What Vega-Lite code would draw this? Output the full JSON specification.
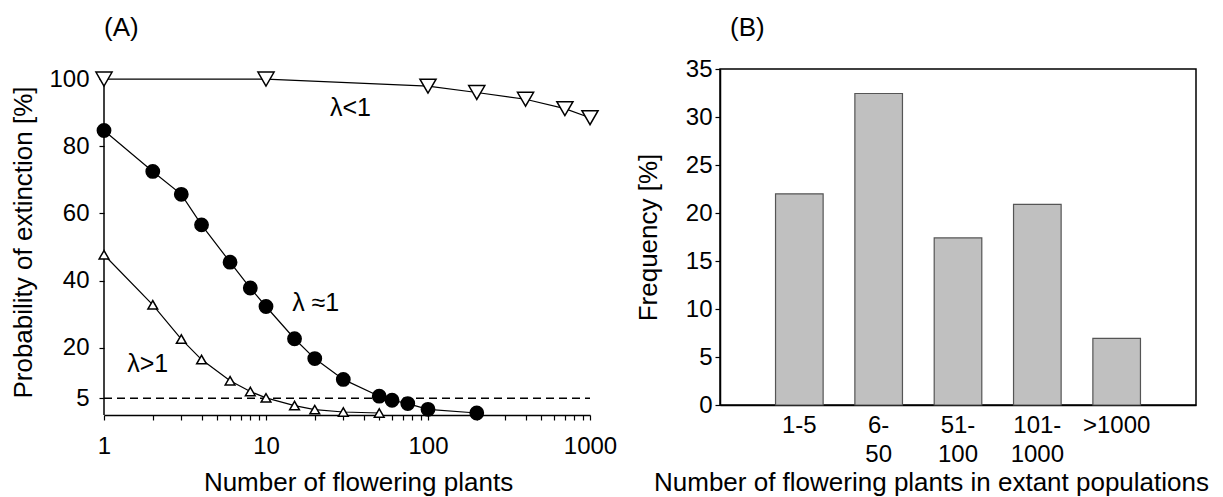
{
  "$schema": "https://vega.github.io/schema/vega-lite/v6.json",
  "padding": {"left": 10, "top": 14, "right": 5, "bottom": 2},
  "background": "white",
  "config": {
    "font": "Liberation Sans",
    "view": {"stroke": null},
    "axis": {"grid": false, "domainColor": "black", "tickColor": "black", "labelColor": "black", "titleColor": "black", "labelFont": "Liberation Sans", "titleFont": "Liberation Sans", "labelFontSize": 24, "titleFontSize": 26, "titleFontWeight": "normal", "domainWidth": 1.5, "tickWidth": 1.2},
    "title": {"fontSize": 26, "fontWeight": "normal", "anchor": "start", "frame": "group", "color": "black", "font": "Liberation Sans"}
  },
  "datasets": {
    "curves": [
      {"series": "lt", "plants": 1, "prob": 100},
      {"series": "lt", "plants": 10, "prob": 100},
      {"series": "lt", "plants": 100, "prob": 97.9},
      {"series": "lt", "plants": 200, "prob": 96.0},
      {"series": "lt", "plants": 400, "prob": 94.0},
      {"series": "lt", "plants": 700, "prob": 91.2},
      {"series": "lt", "plants": 1000, "prob": 88.5},
      {"series": "eq", "plants": 1, "prob": 84.7},
      {"series": "eq", "plants": 2, "prob": 72.5},
      {"series": "eq", "plants": 3, "prob": 65.7},
      {"series": "eq", "plants": 4, "prob": 56.6},
      {"series": "eq", "plants": 6, "prob": 45.5},
      {"series": "eq", "plants": 8, "prob": 37.8},
      {"series": "eq", "plants": 10, "prob": 32.3},
      {"series": "eq", "plants": 15, "prob": 22.7},
      {"series": "eq", "plants": 20, "prob": 16.8},
      {"series": "eq", "plants": 30, "prob": 10.6},
      {"series": "eq", "plants": 50, "prob": 5.6},
      {"series": "eq", "plants": 60, "prob": 4.4},
      {"series": "eq", "plants": 75, "prob": 3.4},
      {"series": "eq", "plants": 100, "prob": 1.7},
      {"series": "eq", "plants": 200, "prob": 0.6},
      {"series": "gt", "plants": 1, "prob": 47.7},
      {"series": "gt", "plants": 2, "prob": 32.8},
      {"series": "gt", "plants": 3, "prob": 22.6},
      {"series": "gt", "plants": 4, "prob": 16.5},
      {"series": "gt", "plants": 6, "prob": 10.2},
      {"series": "gt", "plants": 8, "prob": 7.0},
      {"series": "gt", "plants": 10, "prob": 5.1},
      {"series": "gt", "plants": 15, "prob": 2.8},
      {"series": "gt", "plants": 20, "prob": 1.6},
      {"series": "gt", "plants": 30, "prob": 0.9},
      {"series": "gt", "plants": 50, "prob": 0.6}
    ],
    "labels": [
      {"plants": 24.8, "prob": 91.4, "text": "λ<1"},
      {"plants": 14.5, "prob": 33.3, "text": "λ ≈1"},
      {"plants": 1.39, "prob": 15.2, "text": "λ>1"}
    ],
    "threshold": [
      {"from": 1, "to": 1000, "level": 5}
    ],
    "yaxisline": [
      {"plants": 1, "from": 0, "to": 100}
    ],
    "freq": [
      {"cls": "1-5", "freq": 22.0},
      {"cls": "6-|50", "freq": 32.45},
      {"cls": "51-|100", "freq": 17.4},
      {"cls": "101-|1000", "freq": 20.9},
      {"cls": ">1000", "freq": 6.95}
    ]
  },
  "spacing": 17,
  "hconcat": [
    {
      "width": 486,
      "height": 346,
      "title": {"text": "(A)", "offset": 26},
      "layer": [
        {
          "data": {"name": "curves"},
          "mark": {"type": "line", "color": "black", "strokeWidth": 1.2},
          "encoding": {
            "x": {
              "field": "plants", "type": "quantitative",
              "scale": {"type": "log", "domain": [1, 1000]},
              "axis": {
                "title": "Number of flowering plants",
                "values": [1,2,3,4,5,6,7,8,9,10,20,30,40,50,60,70,80,90,100,200,300,400,500,600,700,800,900,1000],
                "labelExpr": "indexof([1,10,100,1000], datum.value) >= 0 ? format(datum.value, 'd') : ''",
                "labelOverlap": false, "labelFlush": false,
                "tickSize": 5, "labelPadding": 14, "titlePadding": 11, "titleX": 254
              }
            },
            "y": {
              "field": "prob", "type": "quantitative",
              "scale": {"domain": [0, 103], "nice": false},
              "axis": {"title": "Probability of extinction [%]", "values": [5,20,40,60,80,100], "domain": false, "tickSize": 5, "labelPadding": 10, "titlePadding": 12}
            },
            "detail": {"field": "series", "type": "nominal"}
          }
        },
        {
          "data": {"name": "yaxisline"},
          "mark": {"type": "rule", "strokeWidth": 1.5, "color": "black"},
          "encoding": {
            "x": {"field": "plants", "type": "quantitative"},
            "y": {"field": "from", "type": "quantitative"},
            "y2": {"field": "to"}
          }
        },
        {
          "data": {"name": "threshold"},
          "mark": {"type": "rule", "strokeDash": [8, 5], "strokeWidth": 1.5, "color": "black"},
          "encoding": {
            "x": {"field": "from", "type": "quantitative"},
            "x2": {"field": "to"},
            "y": {"field": "level", "type": "quantitative"}
          }
        },
        {
          "data": {"name": "curves"},
          "mark": {"type": "point", "filled": true, "stroke": "black", "strokeWidth": 1.5, "opacity": 1},
          "encoding": {
            "x": {"field": "plants", "type": "quantitative"},
            "y": {"field": "prob", "type": "quantitative"},
            "shape": {"field": "series", "type": "nominal", "scale": {"domain": ["lt", "eq", "gt"], "range": ["triangle-down", "circle", "triangle-up"]}, "legend": null},
            "fill": {"field": "series", "type": "nominal", "scale": {"domain": ["lt", "eq", "gt"], "range": ["white", "black", "white"]}, "legend": null},
            "size": {"field": "series", "type": "nominal", "scale": {"domain": ["lt", "eq", "gt"], "range": [260, 95, 260]}, "legend": null}
          }
        },
        {
          "data": {"name": "labels"},
          "mark": {"type": "text", "align": "left", "baseline": "middle", "fontSize": 25, "font": "Liberation Sans", "color": "black"},
          "encoding": {
            "x": {"field": "plants", "type": "quantitative"},
            "y": {"field": "prob", "type": "quantitative"},
            "text": {"field": "text"}
          }
        }
      ]
    },
    {
      "width": 476,
      "height": 336,
      "title": {"text": "(B)", "offset": 16, "dx": 10},
      "view": {"stroke": "black", "strokeWidth": 1.5},
      "data": {"name": "freq"},
      "mark": {"type": "bar", "fill": "#c0c0c0", "stroke": "#555555", "strokeWidth": 1.2},
      "encoding": {
        "x": {
          "field": "cls", "type": "nominal", "sort": null,
          "scale": {"domain": ["1-5", "6-|50", "51-|100", "101-|1000", ">1000"], "paddingInner": 0.4, "paddingOuter": 0.7},
          "axis": {
            "title": "Number of flowering plants in extant populations",
            "labelAngle": 0, "ticks": false,
            "labelExpr": "split(datum.value, '|')",
            "labelLineHeight": 29, "labelPadding": 8, "titlePadding": 3, "titleX": 211
          }
        },
        "y": {
          "field": "freq", "type": "quantitative",
          "scale": {"domain": [0, 35], "nice": false},
          "axis": {"title": "Frequency [%]", "values": [0,5,10,15,20,25,30,35], "tickSize": 5, "labelPadding": 3, "titlePadding": 24}
        }
      }
    }
  ]
}
